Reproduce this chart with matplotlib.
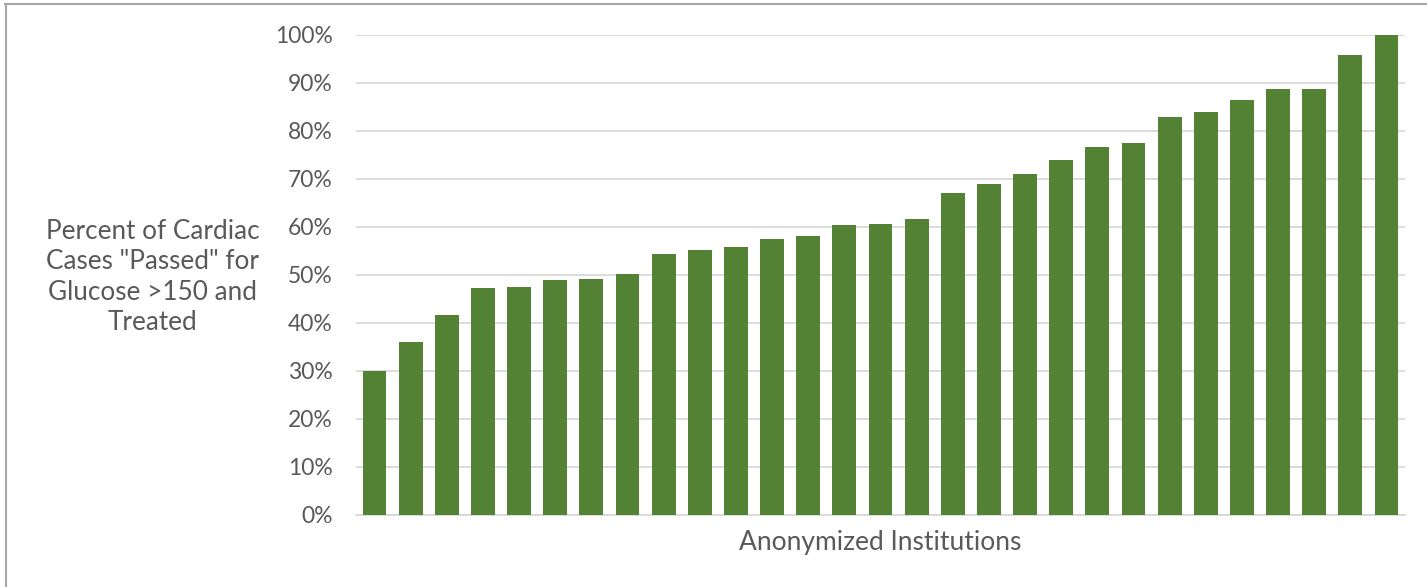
import matplotlib.pyplot as plt
from matplotlib.lines import Line2D
from matplotlib.ticker import FuncFormatter

# Share of cardiac cases passed, one bar per anonymized institution (sorted)
institutions = list(range(1, 30))
percent_passed = [30.0, 36.0, 41.7, 47.2, 47.5, 48.9, 49.2, 50.3, 54.4, 55.2,
                  55.8, 57.6, 58.1, 60.4, 60.7, 61.6, 67.0, 69.0, 71.1, 74.0,
                  76.6, 77.4, 82.9, 84.0, 86.4, 88.7, 88.7, 95.9, 100.0]
y_ticks = list(range(0, 101, 10))

ylabel = 'Percent of Cardiac\nCases "Passed" for\nGlucose >150 and\nTreated'
xlabel = "Anonymized Institutions"

plt.rcParams['font.family'] = ['Lato', 'DejaVu Sans']
text_gray = "#595959"

fig = plt.figure(figsize=(14.27, 5.87), dpi=100)
ax = fig.add_axes([0.2498, 0.1227, 0.9843 - 0.2498, 0.9404 - 0.1227])

x = list(range(len(institutions)))
ax.bar(x, percent_passed, width=0.66, color="#548235", zorder=3)

ax.set_xlim(-0.5, len(institutions) - 0.5)
ax.set_ylim(0, 100)
ax.set_yticks(y_ticks)
ax.yaxis.set_major_formatter(FuncFormatter(lambda v, p: "%d%%" % v))
ax.set_xticks([])
ax.grid(axis="y", color="#d9d9d9", linewidth=1.3, zorder=0)
ax.tick_params(axis="y", length=0, pad=17, labelsize=16.5, labelcolor=text_gray)

for side in ["top", "right", "left"]:
    ax.spines[side].set_visible(False)
ax.spines["bottom"].set_color("#d9d9d9")
ax.spines["bottom"].set_linewidth(1.3)

ax.set_xlabel(xlabel, fontsize=19, color=text_gray, labelpad=11)
fig.text(153 / 1427, 1 - 277 / 587, ylabel, ha="center", va="center",
         fontsize=18.8, color=text_gray, linespacing=1.26)

# partial frame of the original screenshot (top and left edges only)
fig.add_artist(Line2D([5 / 1427, 1], [1 - 4 / 587, 1 - 4 / 587],
                      color="#a6a6a6", linewidth=1.5))
fig.add_artist(Line2D([5.5 / 1427, 5.5 / 1427], [0, 1 - 4 / 587],
                      color="#a6a6a6", linewidth=1.5))

fig.savefig("out.png", dpi=100, facecolor="white")
